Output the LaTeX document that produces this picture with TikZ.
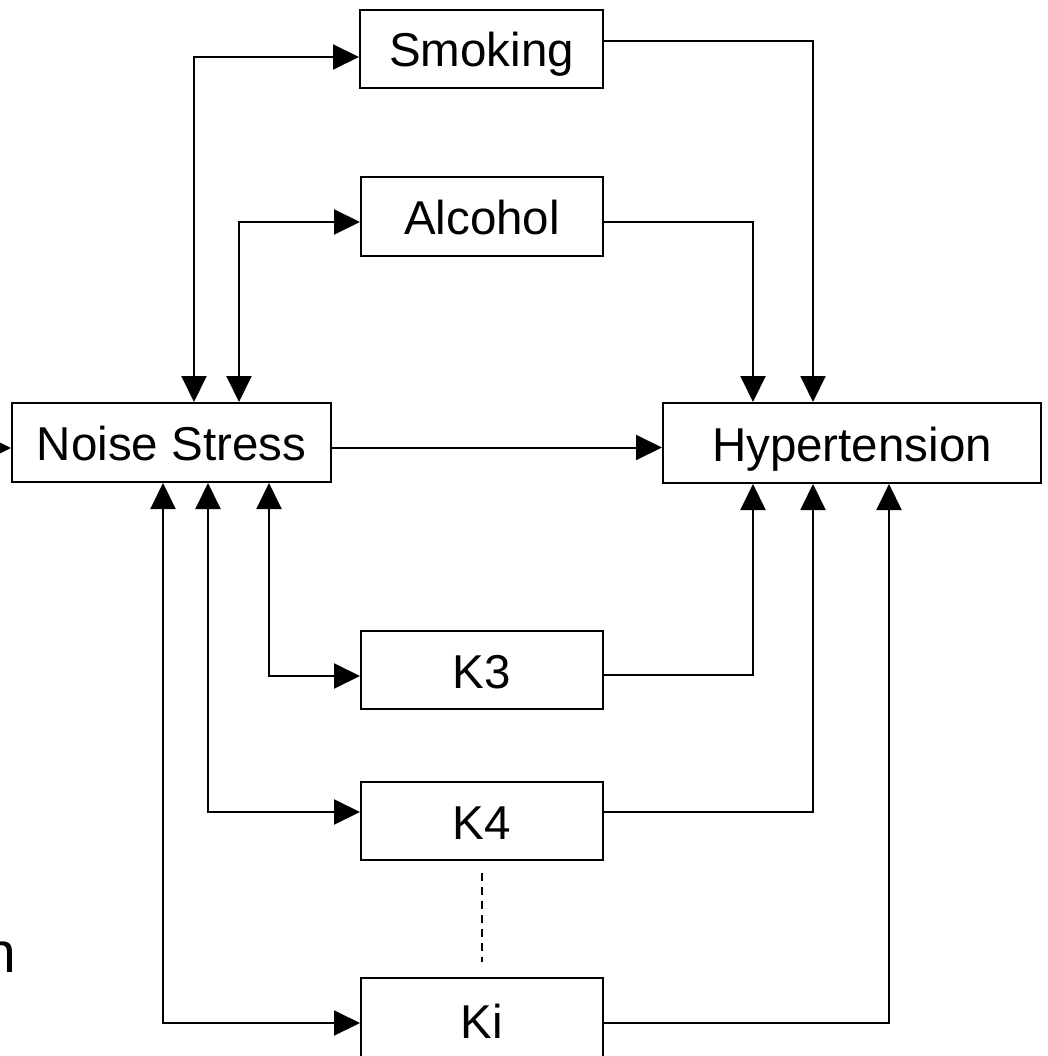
\documentclass[tikz,border=0pt]{standalone}
\usepackage{fontspec}
\setmainfont{Liberation Sans}
\usetikzlibrary{arrows.meta}
\begin{document}
\begin{tikzpicture}[x=1pt,y=-1pt,
  box/.style={draw=black,line width=2pt,fill=white,inner sep=0pt,text height=36pt,text depth=0pt,font=\fontsize{47.5}{57}\selectfont},
  arr/.style={line width=2pt,-{Triangle[length=26pt,width=25pt]}},
  bi/.style={line width=2pt,{Triangle[length=26pt,width=25pt]}-{Triangle[length=26pt,width=25pt]}},
  dashline/.style={line width=2pt,dash pattern=on 8pt off 6pt}]
\useasboundingbox (0,0) rectangle (1047,1056);
\node[box,minimum width=243pt,minimum height=78pt] (smoking) at (481.5,49) {Smoking};
\node[box,minimum width=242pt,minimum height=79pt] (alcohol) at (482,216.5) {Alcohol};
\node[box,minimum width=319pt,minimum height=79pt] (noise) at (171.5,442.5) {Noise Stress};
\node[box,minimum width=378pt,minimum height=80pt] (hyper) at (852,443) {Hypertension};
\node[box,minimum width=242pt,minimum height=78pt] (k3) at (482,670) {K3};
\node[box,minimum width=242pt,minimum height=78pt] (k4) at (482,821) {K4};
\node[box,minimum width=242pt,minimum height=84pt] (ki) at (482,1020) {Ki};
\node[anchor=base east,inner sep=0pt,font=\fontsize{57}{68}\selectfont] (ncut) at (16,972) {n};
\coordinate (src) at (0,448);
% left incoming
\draw[arr] (src) -- (src -| noise.west);
% noise to hypertension
\draw[arr] ([yshift=-5pt]noise.east) -- ([yshift=-5pt]noise.east -| hyper.west);
% bidirectional to confounders
\draw[bi] ([xshift=183pt]noise.north west) |- ([yshift=-8pt]smoking.west);
\draw[bi] ([xshift=228pt]noise.north west) |- ([yshift=-5.5pt]alcohol.west);
\draw[bi] ([xshift=258pt]noise.south west) |- ([yshift=-6pt]k3.west);
\draw[bi] ([xshift=197pt]noise.south west) |- ([yshift=9pt]k4.west);
\draw[bi] ([xshift=152pt]noise.south west) |- ([yshift=-3pt]ki.west);
% confounders to hypertension
\draw[arr] ([yshift=8pt]smoking.east) -| ([xshift=151pt]hyper.north west);
\draw[arr] ([yshift=-5.5pt]alcohol.east) -| ([xshift=91pt]hyper.north west);
\draw[arr] ([yshift=-5pt]k3.east) -| ([xshift=91pt]hyper.south west);
\draw[arr] ([yshift=9pt]k4.east) -| ([xshift=151pt]hyper.south west);
\draw[arr] ([yshift=-3pt]ki.east) -| ([xshift=227pt]hyper.south west);
% dashed
\draw[dashline] ([yshift=-12pt]k4.south) -- ([yshift=15pt]ki.north);
\end{tikzpicture}
\end{document}
